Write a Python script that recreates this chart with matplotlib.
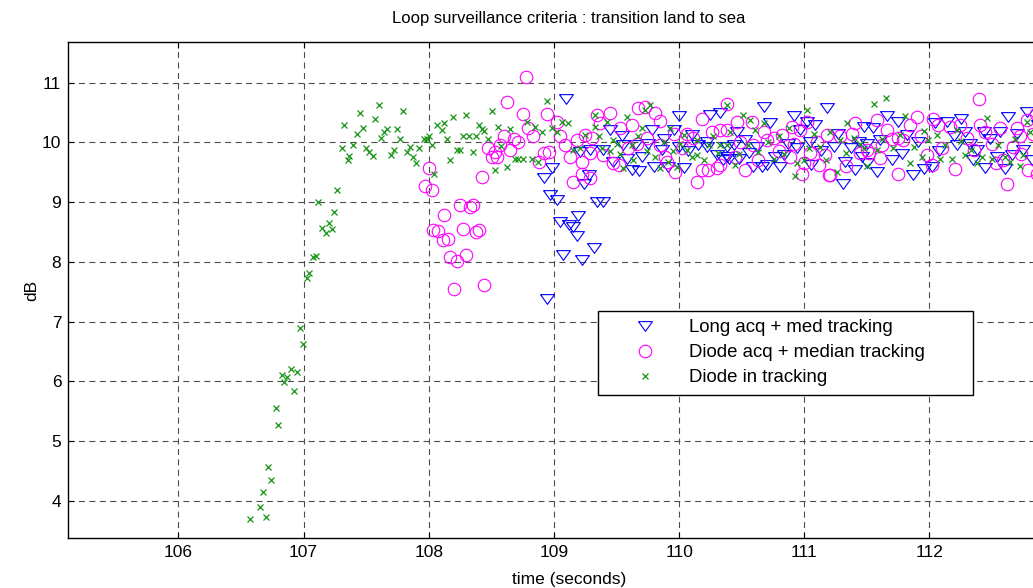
import numpy as np
import matplotlib
matplotlib.use("Agg")
import matplotlib.pyplot as plt

plt.rcParams['font.family'] = ['Liberation Sans', 'DejaVu Sans']

# Long acq + med tracking (blue triangles)
long_t = [108.924, 108.943, 108.970, 108.983, 109.023, 109.050, 109.076, 109.095, 109.124, 109.156,
          109.183, 109.196, 109.209, 109.223, 109.236, 109.276, 109.289, 109.316, 109.342, 109.395,
          109.395, 109.449, 109.475, 109.542, 109.555, 109.622, 109.648, 109.701, 109.755, 109.781,
          109.800, 109.861, 109.915, 109.955, 109.995, 110.035, 110.074, 110.154, 110.221, 110.221,
          110.248, 110.301, 110.330, 110.354, 110.381, 110.381, 110.395, 110.435, 110.475, 110.528,
          110.594, 110.621, 110.661, 110.674, 110.727, 110.768, 110.807, 110.834, 110.941, 110.967,
          111.020, 111.047, 111.087, 111.180, 111.234, 111.313, 111.327, 111.407, 111.433, 111.473,
          111.500, 111.459, 111.499, 111.579, 111.606, 111.699, 111.752, 111.819, 111.872, 111.912,
          112.019, 112.045, 112.139, 112.192, 112.219, 112.285, 112.325, 112.378, 112.432, 112.445,
          112.538, 112.565, 112.631, 112.658, 112.751, 112.778, 112.870,
          109.580, 109.680, 109.880, 110.000, 110.100, 110.460, 110.560, 110.700, 110.870, 110.920,
          111.050, 111.130, 111.270, 111.370, 111.550, 111.660, 111.780, 111.960, 112.080, 112.250,
          112.350, 112.480, 112.600, 112.700, 112.820]
long_db = [9.40, 7.37, 9.12, 9.58, 9.04, 8.66, 8.11, 10.72, 8.62, 8.59,
           8.43, 8.77, 9.84, 8.03, 9.30, 9.45, 9.87, 8.24, 9.01, 9.01,
           9.87, 10.21, 9.68, 10.11, 9.96, 9.54, 9.96, 9.76, 9.98, 10.21,
           9.59, 9.87, 9.59, 10.21, 9.93, 9.57, 9.85, 9.96, 9.93, 10.01,
           10.46, 9.79, 10.50, 9.70, 9.76, 9.93, 9.73, 9.96, 9.73, 10.04,
           9.59, 9.93, 9.59, 10.60, 10.32, 9.76, 9.59, 9.79, 9.90, 10.21,
           10.35, 10.01, 10.29, 10.57, 9.93, 9.31, 9.68, 9.54, 10.01, 10.26,
           9.65, 9.76, 9.98, 9.51, 10.04, 9.71, 10.35, 10.12, 9.45, 10.01,
           9.59, 10.32, 10.35, 10.10, 9.96, 10.18, 9.98, 9.87, 10.18, 9.57,
           9.76, 10.18, 10.43, 9.79, 9.87, 10.51, 10.30,
           9.72, 9.52, 10.05, 10.45, 10.12, 10.18, 9.82, 9.62, 9.98, 10.45,
           9.62, 9.85, 10.15, 9.90, 10.25, 10.45, 9.80, 9.55, 9.85, 10.40,
           9.70, 10.05, 9.55, 10.15, 9.70]

# Diode acq + median tracking (magenta circles)
diode_acq_t = [107.971, 107.998, 108.024, 108.037, 108.077, 108.112, 108.125, 108.152, 108.171, 108.203,
               108.229, 108.251, 108.272, 108.299, 108.331, 108.352, 108.378, 108.402, 108.424, 108.445,
               108.477, 108.504, 108.525, 108.544, 108.570, 108.602, 108.624, 108.650, 108.677, 108.716,
               108.752, 108.775, 108.796, 108.831, 108.884, 108.922, 108.948, 108.964, 109.023, 109.050,
               109.090, 109.130, 109.156, 109.183, 109.223, 109.284, 109.342, 109.222, 109.249, 109.289,
               109.302, 109.369, 109.395, 109.449, 109.475, 109.529, 109.595, 109.662, 109.675, 109.728,
               109.741, 109.808, 109.848, 109.848, 109.888, 109.901, 109.955, 110.021, 110.061, 110.114,
               110.141, 110.181, 110.234, 110.261, 110.301, 110.327, 110.381, 110.381, 110.328, 110.461,
               110.488, 110.528, 110.581, 110.594, 110.674, 110.701, 110.754, 110.821, 110.887, 110.901,
               110.914, 110.967, 110.980, 110.994, 111.047, 111.114, 111.167, 111.180, 111.194, 111.205,
               111.287, 111.407, 111.447, 111.500, 111.513, 111.579, 111.606, 111.659, 111.752, 111.752,
               111.792, 111.845, 111.899, 111.979, 112.032, 112.072, 112.099, 112.165, 112.245, 112.298,
               112.352, 112.399, 112.445, 112.498, 112.565, 112.591, 112.618, 112.671, 112.698, 112.724,
               112.778, 112.791, 112.850, 112.860,
               109.520, 109.620, 109.970, 110.180, 110.450, 110.630, 110.800, 111.020, 111.100, 111.330,
               111.380, 111.620, 111.700, 111.930, 112.020, 112.200, 112.400, 112.530, 112.730, 112.830]
diode_acq_db = [9.27, 9.58, 9.21, 8.53, 8.52, 8.37, 8.78, 8.38, 8.09, 7.54,
                8.02, 8.95, 8.55, 8.11, 8.92, 8.95, 8.50, 8.54, 9.42, 7.61,
                9.90, 9.76, 9.84, 9.76, 9.96, 10.11, 10.67, 9.87, 10.05, 10.01,
                10.47, 11.10, 10.24, 10.11, 9.68, 9.82, 10.47, 9.84, 10.35, 10.10,
                9.96, 9.76, 9.34, 10.04, 9.68, 9.40, 10.46, 9.48, 10.12, 9.82,
                10.07, 10.32, 9.79, 10.49, 9.65, 10.24, 9.90, 9.98, 10.57, 10.60,
                10.07, 10.49, 10.36, 9.96, 9.76, 9.68, 10.15, 9.90, 10.15, 10.07,
                9.34, 9.54, 9.54, 10.18, 9.57, 10.21, 10.65, 10.21, 9.62, 10.35,
                10.01, 9.54, 10.35, 9.96, 10.18, 10.04, 10.07, 10.12, 9.76, 10.26,
                9.98, 10.21, 9.48, 9.65, 9.82, 9.62, 9.79, 10.12, 9.45, 9.45,
                10.10, 10.32, 9.82, 9.87, 9.82, 10.37, 9.74, 10.21, 10.07, 9.48,
                10.04, 10.29, 10.43, 9.79, 10.40, 10.29, 9.90, 10.26, 10.29, 10.07,
                9.87, 10.73, 10.18, 9.98, 10.24, 9.71, 9.31, 9.93, 10.24, 10.10,
                10.37, 9.54, 10.47, 9.48,
                9.62, 10.30, 9.50, 10.40, 9.75, 9.70, 9.85, 10.35, 10.00, 9.60,
                10.15, 9.95, 10.05, 10.10, 9.62, 9.55, 10.30, 9.65, 9.80, 10.15]

# Diode in tracking (green crosses)
track_t = [106.573, 106.653, 106.674, 106.698, 106.719, 106.741, 106.778, 106.799, 106.826, 106.844,
           106.866, 106.900, 106.927, 106.946, 106.972, 106.994, 107.026, 107.047, 107.074, 107.098,
           107.118, 107.143, 107.178, 107.199, 107.225, 107.246, 107.265, 107.305, 107.324, 107.353,
           107.366, 107.393, 107.425, 107.452, 107.478, 107.500, 107.524, 107.555, 107.574, 107.601,
           107.619, 107.643, 107.670, 107.702, 107.723, 107.747, 107.771, 107.793, 107.825, 107.851,
           107.873, 107.897, 107.921, 107.958, 107.985, 107.998, 108.029, 108.045, 108.069, 108.104,
           108.123, 108.149, 108.171, 108.192, 108.229, 108.251, 108.277, 108.299, 108.325, 108.352,
           108.378, 108.402, 108.424, 108.445, 108.477, 108.504, 108.525, 108.549, 108.578, 108.624,
           108.650, 108.690, 108.716, 108.756, 108.784, 108.823, 108.850, 108.876, 108.903, 108.943,
           108.983, 109.023, 109.063, 109.116, 109.156, 109.209, 109.249, 109.329, 109.329, 109.382,
           109.422, 109.449, 109.475, 109.502, 109.555, 109.582, 109.635, 109.675, 109.701, 109.728,
           109.768, 109.808, 109.848, 109.915, 109.928, 109.981, 110.008, 110.061, 110.101, 110.141,
           110.141, 110.274, 110.314, 110.327, 110.381, 110.381, 110.408, 110.448, 110.514, 110.568,
           110.608, 110.634, 110.674, 110.754, 110.794, 110.927, 110.941, 110.994, 111.020, 111.074,
           111.127, 111.207, 111.260, 111.287, 111.340, 111.447, 111.473, 111.553, 111.579, 111.654,
           111.712, 111.766, 111.806, 111.846, 111.939, 111.992, 112.059, 112.085, 112.179, 112.218,
           112.285, 112.378, 112.418, 112.458, 112.498, 112.605, 112.644, 112.751, 112.778, 112.804,
           109.360, 109.530, 109.620, 109.740, 109.880, 109.950, 110.040, 110.200, 110.240, 110.480,
           110.550, 110.710, 110.840, 110.880, 111.040, 111.170, 111.330, 111.400, 111.500, 111.620,
           111.880, 111.960, 112.120, 112.250, 112.330, 112.550, 112.680, 112.720]
track_db = [3.69, 3.90, 4.14, 3.73, 4.57, 4.35, 5.55, 5.27, 6.10, 5.98,
            6.08, 6.20, 5.84, 6.15, 6.89, 6.63, 7.73, 7.82, 8.08, 8.10,
            9.00, 8.56, 8.48, 8.65, 8.55, 8.83, 9.21, 9.91, 10.29, 9.71,
            9.77, 9.96, 10.15, 10.49, 10.25, 9.91, 9.84, 9.77, 10.39, 10.63,
            10.08, 10.18, 10.22, 9.79, 9.88, 10.22, 10.05, 10.53, 9.84, 9.93,
            9.75, 9.66, 9.91, 10.05, 10.05, 10.11, 9.96, 9.47, 10.29, 10.21,
            10.33, 10.05, 9.71, 10.43, 9.87, 9.88, 10.10, 10.46, 10.11, 9.84,
            10.11, 10.29, 10.22, 10.20, 10.05, 10.53, 9.54, 10.26, 9.94, 9.59,
            10.22, 9.72, 9.72, 9.72, 10.35, 9.72, 10.26, 9.68, 10.18, 10.70,
            10.24, 10.18, 10.35, 10.32, 9.87, 9.90, 10.12, 10.46, 10.26, 9.90,
            10.35, 9.85, 10.04, 9.98, 9.57, 10.43, 9.71, 10.10, 10.24, 10.54,
            10.63, 9.76, 9.57, 9.68, 10.24, 9.59, 9.98, 9.87, 9.76, 9.79,
            10.04, 10.10, 9.82, 9.96, 9.96, 10.63, 10.18, 9.62, 10.46, 10.37,
            10.21, 9.84, 10.32, 9.73, 10.10, 9.43, 9.65, 9.70, 10.54, 10.15,
            9.93, 10.18, 9.51, 10.04, 10.32, 9.98, 9.90, 10.64, 9.87, 10.75,
            9.90, 10.12, 10.44, 9.65, 9.76, 10.04, 10.12, 9.73, 9.73, 10.21,
            9.79, 9.65, 9.76, 10.41, 9.73, 9.76, 9.68, 9.79, 10.35, 10.18,
            10.10, 9.80, 9.95, 9.85, 10.00, 9.86, 10.12, 9.70, 9.95, 9.80,
            9.95, 10.00, 9.80, 10.25, 9.90, 9.70, 9.82, 10.08, 9.60, 10.05,
            9.92, 10.20, 9.95, 10.02, 9.88, 9.95, 10.05, 9.60]

fig = plt.figure(figsize=(10.33, 5.88), dpi=100)
ax = fig.add_axes([0.0661, 0.0855, 1001.4 / 1033, 0.8425])

# wide, flat triangle like the MATLAB 'v' marker
tri = [(-1.0, 0.7), (1.0, 0.7), (0.0, -0.7), (-1.0, 0.7)]

ax.plot(long_t, long_db, linestyle='none', marker=tri, markersize=10,
        markerfacecolor='none', markeredgecolor='blue', markeredgewidth=0.8,
        label='Long acq + med tracking')
ax.plot(diode_acq_t, diode_acq_db, linestyle='none', marker='o', markersize=9,
        markerfacecolor='none', markeredgecolor='magenta', markeredgewidth=0.8,
        label='Diode acq + median tracking')
ax.plot(track_t, track_db, linestyle='none', marker='x', markersize=4.5,
        color='#169416', markeredgewidth=0.9, label='Diode in tracking')

ax.set_xlim(105.12, 113.12)
ax.set_ylim(3.38, 11.677)
ax.set_xticks([106, 107, 108, 109, 110, 111, 112])
ax.set_yticks([4, 5, 6, 7, 8, 9, 10, 11])
ax.grid(True, color='0.3', linestyle=(0, (5.4, 4)), linewidth=0.8)
ax.tick_params(direction='in', length=4.5, width=0.8, top=True, right=True,
               labelsize=12.5, pad=5)
for s in ax.spines.values():
    s.set_linewidth(1.0)

ax.set_title('Loop surveillance criteria : transition land to sea', fontsize=12, pad=14)
ax.set_xlabel('time (seconds)', fontsize=12.5, labelpad=9)
ax.set_ylabel('dB', fontsize=12.5, labelpad=2)

leg = ax.legend(loc='upper left', bbox_to_anchor=(0.529, 0.284, 0.3745, 0.1736),
                mode='expand', borderaxespad=0,
                fontsize=13.4, frameon=True, fancybox=False, edgecolor='black',
                framealpha=1, handlelength=4.2, handletextpad=0.25,
                labelspacing=0.42, borderpad=0.45, numpoints=1)
leg.get_frame().set_linewidth(1.0)

fig.savefig('out.png', dpi=100)
